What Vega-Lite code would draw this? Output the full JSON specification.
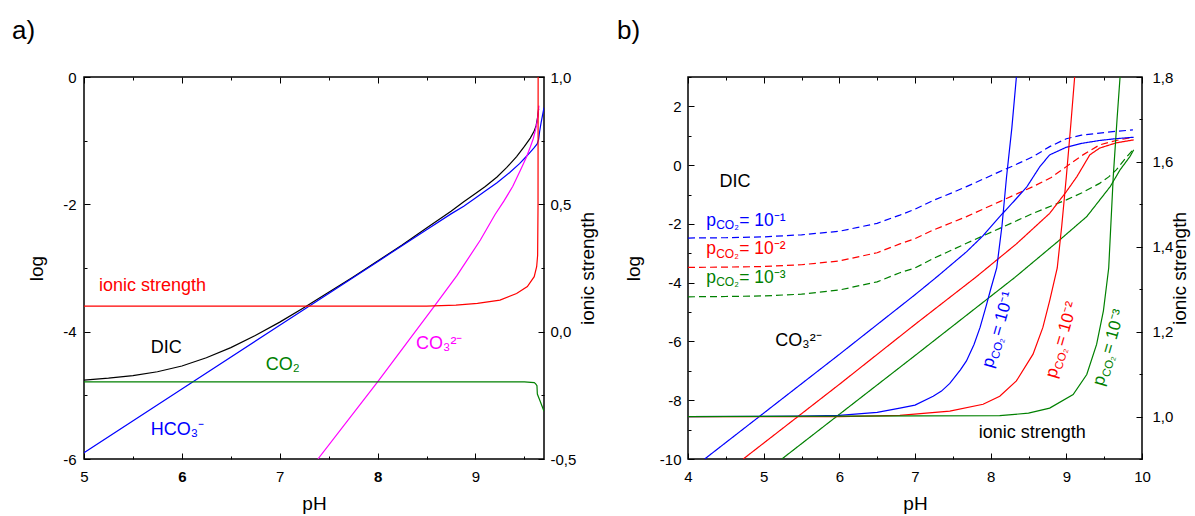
{
  "$schema": "https://vega.github.io/schema/vega-lite/v6.json",
  "padding": {"left": 11, "top": 17, "right": 3, "bottom": 0},
  "background": "white",
  "config": {
    "font": "Liberation Sans",
    "view": {"stroke": "#000000", "strokeWidth": 1.5},
    "axis": {"domain": false, "grid": false, "labelFont": "Liberation Sans", "labelFontSize": 15, "labelColor": "#000000", "tickColor": "#000000", "tickWidth": 1, "titleFont": "Liberation Sans", "titleFontSize": 19, "titleFontWeight": "normal", "titleColor": "#000000", "labelFlush": false, "labelOverlap": false},
    "title": {"font": "Liberation Sans", "fontSize": 26, "fontWeight": "normal", "anchor": "start", "frame": "group", "baseline": "alphabetic", "offset": 26, "color": "#000000"}
  },
  "spacing": 17,
  "resolve": {"scale": {"x": "independent", "y": "independent", "color": "independent", "strokeDash": "independent"}},
  "datasets": {
    "aLines": [
      {"pH": 5, "v": -4.76, "s": "DIC"}, {"pH": 5.25, "v": -4.73, "s": "DIC"}, {"pH": 5.5, "v": -4.69, "s": "DIC"}, {"pH": 5.75, "v": -4.63, "s": "DIC"}, {"pH": 6, "v": -4.54, "s": "DIC"}, {"pH": 6.25, "v": -4.41, "s": "DIC"}, {"pH": 6.5, "v": -4.25, "s": "DIC"}, {"pH": 6.75, "v": -4.06, "s": "DIC"}, {"pH": 7, "v": -3.85, "s": "DIC"}, {"pH": 7.25, "v": -3.62, "s": "DIC"}, {"pH": 7.5, "v": -3.38, "s": "DIC"}, {"pH": 7.75, "v": -3.14, "s": "DIC"}, {"pH": 8, "v": -2.89, "s": "DIC"}, {"pH": 8.25, "v": -2.64, "s": "DIC"}, {"pH": 8.5, "v": -2.37, "s": "DIC"}, {"pH": 8.75, "v": -2.11, "s": "DIC"}, {"pH": 8.88, "v": -1.96, "s": "DIC"}, {"pH": 9, "v": -1.83, "s": "DIC"}, {"pH": 9.1, "v": -1.72, "s": "DIC"}, {"pH": 9.22, "v": -1.57, "s": "DIC"}, {"pH": 9.32, "v": -1.42, "s": "DIC"}, {"pH": 9.42, "v": -1.25, "s": "DIC"}, {"pH": 9.5, "v": -1.09, "s": "DIC"}, {"pH": 9.56, "v": -0.96, "s": "DIC"}, {"pH": 9.6, "v": -0.85, "s": "DIC"}, {"pH": 9.62, "v": -0.76, "s": "DIC"}, {"pH": 9.635, "v": -0.63, "s": "DIC"}, {"pH": 9.645, "v": -0.5, "s": "DIC"},
      {"pH": 5, "v": -5.9, "s": "HCO3"}, {"pH": 6, "v": -4.9, "s": "HCO3"}, {"pH": 7, "v": -3.9, "s": "HCO3"}, {"pH": 8, "v": -2.9, "s": "HCO3"}, {"pH": 8.5, "v": -2.4, "s": "HCO3"}, {"pH": 8.75, "v": -2.15, "s": "HCO3"}, {"pH": 8.88, "v": -2.03, "s": "HCO3"}, {"pH": 9, "v": -1.9, "s": "HCO3"}, {"pH": 9.1, "v": -1.79, "s": "HCO3"}, {"pH": 9.22, "v": -1.66, "s": "HCO3"}, {"pH": 9.35, "v": -1.5, "s": "HCO3"}, {"pH": 9.45, "v": -1.36, "s": "HCO3"}, {"pH": 9.5, "v": -1.28, "s": "HCO3"}, {"pH": 9.56, "v": -1.18, "s": "HCO3"}, {"pH": 9.6, "v": -1.11, "s": "HCO3"}, {"pH": 9.63, "v": -1.05, "s": "HCO3"}, {"pH": 9.645, "v": -0.98, "s": "HCO3"}, {"pH": 9.655, "v": -0.86, "s": "HCO3"}, {"pH": 9.67, "v": -0.72, "s": "HCO3"}, {"pH": 9.7, "v": -0.48, "s": "HCO3"},
      {"pH": 7.39, "v": -6, "s": "CO3"}, {"pH": 8, "v": -4.79, "s": "CO3"}, {"pH": 8.58, "v": -3.6, "s": "CO3"}, {"pH": 8.81, "v": -3.12, "s": "CO3"}, {"pH": 9.05, "v": -2.56, "s": "CO3"}, {"pH": 9.2, "v": -2.16, "s": "CO3"}, {"pH": 9.29, "v": -1.95, "s": "CO3"}, {"pH": 9.38, "v": -1.72, "s": "CO3"}, {"pH": 9.46, "v": -1.46, "s": "CO3"}, {"pH": 9.52, "v": -1.26, "s": "CO3"}, {"pH": 9.56, "v": -1.1, "s": "CO3"}, {"pH": 9.59, "v": -0.97, "s": "CO3"}, {"pH": 9.615, "v": -0.82, "s": "CO3"}, {"pH": 9.63, "v": -0.7, "s": "CO3"}, {"pH": 9.64, "v": -0.58, "s": "CO3"}, {"pH": 9.648, "v": -0.45, "s": "CO3"},
      {"pH": 5, "v": -4.79, "s": "CO2"}, {"pH": 9.5, "v": -4.79, "s": "CO2"}, {"pH": 9.6, "v": -4.8, "s": "CO2"}, {"pH": 9.615, "v": -4.82, "s": "CO2"}, {"pH": 9.628, "v": -4.85, "s": "CO2"}, {"pH": 9.632, "v": -4.98, "s": "CO2"}, {"pH": 9.66, "v": -5.09, "s": "CO2"}, {"pH": 9.7, "v": -5.25, "s": "CO2"}
    ],
    "aIonic": [
      {"pH": 5, "I": 0.1}, {"pH": 8.5, "I": 0.1}, {"pH": 8.8, "I": 0.104}, {"pH": 9.02, "I": 0.111}, {"pH": 9.25, "I": 0.124}, {"pH": 9.42, "I": 0.15}, {"pH": 9.53, "I": 0.177}, {"pH": 9.6, "I": 0.216}, {"pH": 9.625, "I": 0.255}, {"pH": 9.635, "I": 0.3}, {"pH": 9.639, "I": 0.5}, {"pH": 9.64, "I": 1.0}
    ],
    "aLabels": [
      {"pH": 5.7, "v": -3.28, "t": "ionic strength", "s": "ionic"},
      {"pH": 5.84, "v": -4.25, "t": "DIC", "s": "DIC"},
      {"pH": 7.03, "v": -4.52, "t": "CO₂", "s": "CO2"},
      {"pH": 5.955, "v": -5.55, "t": "HCO₃⁻", "s": "HCO3"},
      {"pH": 8.63, "v": -4.2, "t": "CO₃²⁻", "s": "CO3"}
    ],
    "bLines": [
      {"pH": 4, "v": -2.48, "p": "p1", "k": "DIC"}, {"pH": 4.5, "v": -2.47, "p": "p1", "k": "DIC"}, {"pH": 5, "v": -2.44, "p": "p1", "k": "DIC"}, {"pH": 5.5, "v": -2.37, "p": "p1", "k": "DIC"}, {"pH": 6, "v": -2.25, "p": "p1", "k": "DIC"}, {"pH": 6.5, "v": -1.98, "p": "p1", "k": "DIC"}, {"pH": 6.8, "v": -1.7, "p": "p1", "k": "DIC"}, {"pH": 7, "v": -1.5, "p": "p1", "k": "DIC"}, {"pH": 7.24, "v": -1.2, "p": "p1", "k": "DIC"}, {"pH": 7.5, "v": -0.93, "p": "p1", "k": "DIC"}, {"pH": 7.68, "v": -0.73, "p": "p1", "k": "DIC"}, {"pH": 8, "v": -0.36, "p": "p1", "k": "DIC"}, {"pH": 8.12, "v": -0.22, "p": "p1", "k": "DIC"}, {"pH": 8.3, "v": -0.02, "p": "p1", "k": "DIC"}, {"pH": 8.56, "v": 0.29, "p": "p1", "k": "DIC"}, {"pH": 8.78, "v": 0.63, "p": "p1", "k": "DIC"}, {"pH": 9, "v": 0.9, "p": "p1", "k": "DIC"}, {"pH": 9.2, "v": 1.02, "p": "p1", "k": "DIC"}, {"pH": 9.44, "v": 1.09, "p": "p1", "k": "DIC"}, {"pH": 9.65, "v": 1.15, "p": "p1", "k": "DIC"}, {"pH": 9.88, "v": 1.2, "p": "p1", "k": "DIC"},
      {"pH": 4, "v": -3.48, "p": "p2", "k": "DIC"}, {"pH": 4.5, "v": -3.47, "p": "p2", "k": "DIC"}, {"pH": 5, "v": -3.45, "p": "p2", "k": "DIC"}, {"pH": 5.5, "v": -3.39, "p": "p2", "k": "DIC"}, {"pH": 6, "v": -3.26, "p": "p2", "k": "DIC"}, {"pH": 6.5, "v": -2.98, "p": "p2", "k": "DIC"}, {"pH": 6.8, "v": -2.68, "p": "p2", "k": "DIC"}, {"pH": 7, "v": -2.5, "p": "p2", "k": "DIC"}, {"pH": 7.24, "v": -2.21, "p": "p2", "k": "DIC"}, {"pH": 7.68, "v": -1.75, "p": "p2", "k": "DIC"}, {"pH": 8.12, "v": -1.24, "p": "p2", "k": "DIC"}, {"pH": 8.56, "v": -0.73, "p": "p2", "k": "DIC"}, {"pH": 8.8, "v": -0.42, "p": "p2", "k": "DIC"}, {"pH": 9, "v": -0.05, "p": "p2", "k": "DIC"}, {"pH": 9.22, "v": 0.35, "p": "p2", "k": "DIC"}, {"pH": 9.44, "v": 0.69, "p": "p2", "k": "DIC"}, {"pH": 9.66, "v": 0.84, "p": "p2", "k": "DIC"}, {"pH": 9.88, "v": 0.95, "p": "p2", "k": "DIC"},
      {"pH": 4, "v": -4.48, "p": "p3", "k": "DIC"}, {"pH": 4.5, "v": -4.47, "p": "p3", "k": "DIC"}, {"pH": 5, "v": -4.45, "p": "p3", "k": "DIC"}, {"pH": 5.5, "v": -4.39, "p": "p3", "k": "DIC"}, {"pH": 6, "v": -4.25, "p": "p3", "k": "DIC"}, {"pH": 6.5, "v": -3.97, "p": "p3", "k": "DIC"}, {"pH": 6.8, "v": -3.66, "p": "p3", "k": "DIC"}, {"pH": 7, "v": -3.5, "p": "p3", "k": "DIC"}, {"pH": 7.24, "v": -3.18, "p": "p3", "k": "DIC"}, {"pH": 7.68, "v": -2.66, "p": "p3", "k": "DIC"}, {"pH": 8.12, "v": -2.15, "p": "p3", "k": "DIC"}, {"pH": 8.56, "v": -1.64, "p": "p3", "k": "DIC"}, {"pH": 9, "v": -1.18, "p": "p3", "k": "DIC"}, {"pH": 9.2, "v": -0.95, "p": "p3", "k": "DIC"}, {"pH": 9.44, "v": -0.62, "p": "p3", "k": "DIC"}, {"pH": 9.56, "v": -0.4, "p": "p3", "k": "DIC"}, {"pH": 9.66, "v": -0.16, "p": "p3", "k": "DIC"}, {"pH": 9.8, "v": 0.29, "p": "p3", "k": "DIC"}, {"pH": 9.89, "v": 0.55, "p": "p3", "k": "DIC"},
      {"pH": 4.22, "v": -10, "p": "p1", "k": "CO3"}, {"pH": 5, "v": -8.44, "p": "p1", "k": "CO3"}, {"pH": 6, "v": -6.44, "p": "p1", "k": "CO3"}, {"pH": 7, "v": -4.41, "p": "p1", "k": "CO3"}, {"pH": 7.29, "v": -3.8, "p": "p1", "k": "CO3"}, {"pH": 7.68, "v": -2.95, "p": "p1", "k": "CO3"}, {"pH": 7.9, "v": -2.4, "p": "p1", "k": "CO3"}, {"pH": 8.12, "v": -1.75, "p": "p1", "k": "CO3"}, {"pH": 8.3, "v": -1.25, "p": "p1", "k": "CO3"}, {"pH": 8.48, "v": -0.73, "p": "p1", "k": "CO3"}, {"pH": 8.65, "v": -0.05, "p": "p1", "k": "CO3"}, {"pH": 8.78, "v": 0.35, "p": "p1", "k": "CO3"}, {"pH": 9, "v": 0.61, "p": "p1", "k": "CO3"}, {"pH": 9.2, "v": 0.74, "p": "p1", "k": "CO3"}, {"pH": 9.44, "v": 0.84, "p": "p1", "k": "CO3"}, {"pH": 9.65, "v": 0.9, "p": "p1", "k": "CO3"}, {"pH": 9.89, "v": 0.95, "p": "p1", "k": "CO3"},
      {"pH": 4.73, "v": -10, "p": "p2", "k": "CO3"}, {"pH": 5, "v": -9.46, "p": "p2", "k": "CO3"}, {"pH": 6, "v": -7.46, "p": "p2", "k": "CO3"}, {"pH": 7, "v": -5.42, "p": "p2", "k": "CO3"}, {"pH": 7.81, "v": -3.8, "p": "p2", "k": "CO3"}, {"pH": 8.34, "v": -2.68, "p": "p2", "k": "CO3"}, {"pH": 8.78, "v": -1.64, "p": "p2", "k": "CO3"}, {"pH": 9, "v": -0.9, "p": "p2", "k": "CO3"}, {"pH": 9.14, "v": -0.39, "p": "p2", "k": "CO3"}, {"pH": 9.31, "v": 0.35, "p": "p2", "k": "CO3"}, {"pH": 9.44, "v": 0.58, "p": "p2", "k": "CO3"}, {"pH": 9.66, "v": 0.76, "p": "p2", "k": "CO3"}, {"pH": 9.89, "v": 0.86, "p": "p2", "k": "CO3"},
      {"pH": 5.24, "v": -10, "p": "p3", "k": "CO3"}, {"pH": 6, "v": -8.48, "p": "p3", "k": "CO3"}, {"pH": 7, "v": -6.48, "p": "p3", "k": "CO3"}, {"pH": 8.32, "v": -3.82, "p": "p3", "k": "CO3"}, {"pH": 8.91, "v": -2.55, "p": "p3", "k": "CO3"}, {"pH": 9.27, "v": -1.75, "p": "p3", "k": "CO3"}, {"pH": 9.58, "v": -0.73, "p": "p3", "k": "CO3"}, {"pH": 9.71, "v": -0.16, "p": "p3", "k": "CO3"}, {"pH": 9.84, "v": 0.29, "p": "p3", "k": "CO3"}, {"pH": 9.89, "v": 0.52, "p": "p3", "k": "CO3"}
    ],
    "bIonic": [
      {"pH": 4, "I": 1.0, "p": "p1"}, {"pH": 5.5, "I": 1.001, "p": "p1"}, {"pH": 6, "I": 1.003, "p": "p1"}, {"pH": 6.5, "I": 1.01, "p": "p1"}, {"pH": 6.8, "I": 1.02, "p": "p1"}, {"pH": 7, "I": 1.027, "p": "p1"}, {"pH": 7.24, "I": 1.048, "p": "p1"}, {"pH": 7.35, "I": 1.06, "p": "p1"}, {"pH": 7.46, "I": 1.078, "p": "p1"}, {"pH": 7.6, "I": 1.11, "p": "p1"}, {"pH": 7.68, "I": 1.131, "p": "p1"}, {"pH": 7.78, "I": 1.17, "p": "p1"}, {"pH": 7.86, "I": 1.21, "p": "p1"}, {"pH": 7.94, "I": 1.26, "p": "p1"}, {"pH": 8, "I": 1.3, "p": "p1"}, {"pH": 8.08, "I": 1.35, "p": "p1"}, {"pH": 8.15, "I": 1.45, "p": "p1"}, {"pH": 8.21, "I": 1.565, "p": "p1"}, {"pH": 8.28, "I": 1.68, "p": "p1"}, {"pH": 8.34, "I": 1.8, "p": "p1"},
      {"pH": 4, "I": 1.0, "p": "p2"}, {"pH": 6, "I": 1.0, "p": "p2"}, {"pH": 6.8, "I": 1.003, "p": "p2"}, {"pH": 7.46, "I": 1.013, "p": "p2"}, {"pH": 7.9, "I": 1.029, "p": "p2"}, {"pH": 8.12, "I": 1.048, "p": "p2"}, {"pH": 8.34, "I": 1.084, "p": "p2"}, {"pH": 8.56, "I": 1.147, "p": "p2"}, {"pH": 8.69, "I": 1.21, "p": "p2"}, {"pH": 8.78, "I": 1.273, "p": "p2"}, {"pH": 8.88, "I": 1.35, "p": "p2"}, {"pH": 8.94, "I": 1.45, "p": "p2"}, {"pH": 9, "I": 1.565, "p": "p2"}, {"pH": 9.06, "I": 1.69, "p": "p2"}, {"pH": 9.11, "I": 1.8, "p": "p2"},
      {"pH": 4, "I": 1.0, "p": "p3"}, {"pH": 8.12, "I": 1.002, "p": "p3"}, {"pH": 8.5, "I": 1.008, "p": "p3"}, {"pH": 8.78, "I": 1.02, "p": "p3"}, {"pH": 9.09, "I": 1.052, "p": "p3"}, {"pH": 9.27, "I": 1.099, "p": "p3"}, {"pH": 9.4, "I": 1.17, "p": "p3"}, {"pH": 9.49, "I": 1.249, "p": "p3"}, {"pH": 9.56, "I": 1.35, "p": "p3"}, {"pH": 9.62, "I": 1.565, "p": "p3"}, {"pH": 9.67, "I": 1.7, "p": "p3"}, {"pH": 9.71, "I": 1.8, "p": "p3"}
    ],
    "bLabels": [
      {"pH": 4.62, "v": -0.59, "t": "DIC", "p": "k", "g": "plain"},
      {"pH": 5.46, "v": -5.99, "t": "CO₃²⁻", "p": "k", "g": "plain"},
      {"pH": 8.55, "v": -9.12, "t": "ionic strength", "p": "k", "g": "plain"},
      {"pH": 4.24, "v": -2.06, "t": "p", "p": "p1", "g": "hp"},
      {"pH": 4.24, "v": -2.06, "t": "CO₂", "p": "p1", "g": "hs"},
      {"pH": 4.24, "v": -2.06, "t": "= 10⁻¹", "p": "p1", "g": "he"},
      {"pH": 4.24, "v": -3.03, "t": "p", "p": "p2", "g": "hp"},
      {"pH": 4.24, "v": -3.03, "t": "CO₂", "p": "p2", "g": "hs"},
      {"pH": 4.24, "v": -3.03, "t": "= 10⁻²", "p": "p2", "g": "he"},
      {"pH": 4.24, "v": -4.0, "t": "p", "p": "p3", "g": "hp"},
      {"pH": 4.24, "v": -4.0, "t": "CO₂", "p": "p3", "g": "hs"},
      {"pH": 4.24, "v": -4.0, "t": "= 10⁻³", "p": "p3", "g": "he"},
      {"pH": 8.02, "v": -6.92, "t": "p", "p": "p1", "g": "rp"},
      {"pH": 8.02, "v": -6.92, "t": "CO₂", "p": "p1", "g": "rs"},
      {"pH": 8.02, "v": -6.92, "t": "= 10⁻¹", "p": "p1", "g": "re"},
      {"pH": 8.86, "v": -7.27, "t": "p", "p": "p2", "g": "rp"},
      {"pH": 8.86, "v": -7.27, "t": "CO₂", "p": "p2", "g": "rs"},
      {"pH": 8.86, "v": -7.27, "t": "= 10⁻²", "p": "p2", "g": "re"},
      {"pH": 9.485, "v": -7.53, "t": "p", "p": "p3", "g": "rp"},
      {"pH": 9.485, "v": -7.53, "t": "CO₂", "p": "p3", "g": "rs"},
      {"pH": 9.485, "v": -7.53, "t": "= 10⁻³", "p": "p3", "g": "re"}
    ]
  },
  "hconcat": [
    {
      "width": 460, "height": 382,
      "title": {"text": "a)", "dx": -72},
      "layer": [
        {
          "data": {"name": "aLines"},
          "mark": {"type": "line", "strokeWidth": 1.2, "clip": true},
          "encoding": {
            "x": {"field": "pH", "type": "quantitative", "scale": {"domain": [5, 9.7], "nice": false, "zero": false},
              "axis": {"title": "pH", "orient": "bottom", "values": [5, 5.5, 6, 6.5, 7, 7.5, 8, 8.5, 9, 9.5], "labelExpr": "datum.value % 1 == 0 ? format(datum.value, 'd') : ''", "tickSize": {"condition": {"test": "datum.value % 1 == 0", "value": -6}, "value": -3}, "labelPadding": 16, "titlePadding": 7, "labelFontWeight": {"condition": {"test": "datum.value == 6 || datum.value == 8", "value": "bold"}, "value": "normal"}}},
            "y": {"field": "v", "type": "quantitative", "scale": {"domain": [-6, 0], "nice": false, "zero": false},
              "axis": {"title": "log", "orient": "left", "values": [-6, -5, -4, -3, -2, -1, 0], "labelExpr": "datum.value % 2 == 0 ? replace(format(datum.value, 'd'), '−', '-') : ''", "tickSize": {"condition": {"test": "datum.value % 2 == 0", "value": -6}, "value": -3}, "labelPadding": 14, "titlePadding": 16}},
            "color": {"field": "s", "type": "nominal", "scale": {"domain": ["DIC", "CO2", "HCO3", "CO3", "ionic"], "range": ["#000000", "#008000", "#0000ff", "#ff00ff", "#ff0000"]}, "legend": null}
          }
        },
        {
          "data": {"name": "aIonic"},
          "mark": {"type": "line", "color": "#ff0000", "strokeWidth": 1.2, "clip": true},
          "encoding": {
            "x": {"field": "pH", "type": "quantitative", "scale": {"domain": [5, 9.7], "nice": false, "zero": false},
              "axis": {"title": null, "orient": "top", "labels": false, "values": [5, 5.5, 6, 6.5, 7, 7.5, 8, 8.5, 9, 9.5], "tickSize": {"condition": {"test": "datum.value % 1 == 0", "value": -6}, "value": -3}}},
            "y": {"field": "I", "type": "quantitative", "scale": {"domain": [-0.5, 1], "nice": false, "zero": false},
              "axis": {"title": "ionic strength", "orient": "right", "values": [-0.5, -0.25, 0, 0.25, 0.5, 0.75, 1], "labelExpr": "round(datum.value * 4) % 2 == 0 ? replace(replace(format(datum.value, '.1f'), '.', ','), '−', '-') : ''", "tickSize": {"condition": {"test": "round(datum.value * 4) % 2 == 0", "value": -6}, "value": -3}, "labelPadding": 12, "titlePadding": 3, "titleAngle": 270, "titleBaseline": "top"}}
          }
        },
        {
          "data": {"name": "aLabels"},
          "mark": {"type": "text", "fontSize": 18, "align": "center", "baseline": "middle", "font": "Liberation Sans"},
          "encoding": {
            "x": {"field": "pH", "type": "quantitative", "scale": {"domain": [5, 9.7], "nice": false, "zero": false}, "axis": null},
            "y": {"field": "v", "type": "quantitative", "scale": {"domain": [-6, 0], "nice": false, "zero": false}, "axis": null},
            "text": {"field": "t", "type": "nominal"},
            "color": {"field": "s", "type": "nominal", "legend": null}
          }
        }
      ],
      "resolve": {"scale": {"y": "independent"}, "axis": {"x": "independent", "y": "independent"}}
    },
    {
      "width": 454, "height": 382,
      "title": {"text": "b)", "dx": -71},
      "layer": [
        {
          "data": {"name": "bLines"},
          "mark": {"type": "line", "strokeWidth": 1.2, "clip": true},
          "encoding": {
            "x": {"field": "pH", "type": "quantitative", "scale": {"domain": [4, 10], "nice": false, "zero": false},
              "axis": {"title": "pH", "orient": "bottom", "values": [4, 4.5, 5, 5.5, 6, 6.5, 7, 7.5, 8, 8.5, 9, 9.5, 10], "labelExpr": "datum.value % 1 == 0 ? format(datum.value, 'd') : ''", "tickSize": {"condition": {"test": "datum.value % 1 == 0", "value": -6}, "value": -3}, "labelPadding": 16, "titlePadding": 7}},
            "y": {"field": "v", "type": "quantitative", "scale": {"domain": [-10, 3], "nice": false, "zero": false},
              "axis": {"title": "log", "orient": "left", "values": [-10, -9, -8, -7, -6, -5, -4, -3, -2, -1, 0, 1, 2, 3], "labelExpr": "datum.value % 2 == 0 ? replace(format(datum.value, 'd'), '−', '-') : ''", "tickSize": {"condition": {"test": "datum.value % 2 == 0", "value": -6}, "value": -3}, "labelPadding": 13, "titlePadding": 16}},
            "color": {"field": "p", "type": "nominal", "scale": {"domain": ["p1", "p2", "p3", "k"], "range": ["#0000ff", "#ff0000", "#008000", "#000000"]}, "legend": null},
            "strokeDash": {"field": "k", "type": "nominal", "scale": {"domain": ["CO3", "DIC"], "range": [[1, 0], [7, 4]]}, "legend": null}
          }
        },
        {
          "data": {"name": "bIonic"},
          "mark": {"type": "line", "strokeWidth": 1.2, "clip": true},
          "encoding": {
            "x": {"field": "pH", "type": "quantitative", "scale": {"domain": [4, 10], "nice": false, "zero": false},
              "axis": {"title": null, "orient": "top", "labels": false, "values": [4, 4.5, 5, 5.5, 6, 6.5, 7, 7.5, 8, 8.5, 9, 9.5, 10], "tickSize": {"condition": {"test": "datum.value % 1 == 0", "value": -6}, "value": -3}}},
            "y": {"field": "I", "type": "quantitative", "scale": {"domain": [0.9, 1.8], "nice": false, "zero": false},
              "axis": {"title": "ionic strength", "orient": "right", "values": [0.9, 1.0, 1.1, 1.2, 1.3, 1.4, 1.5, 1.6, 1.7, 1.8], "labelExpr": "round(datum.value * 10) % 2 == 0 ? replace(format(datum.value, '.1f'), '.', ',') : ''", "tickSize": {"condition": {"test": "round(datum.value * 10) % 2 == 0", "value": -6}, "value": -3}, "labelPadding": 16, "titlePadding": -2, "titleAngle": 270, "titleBaseline": "top"}},
            "color": {"field": "p", "type": "nominal", "legend": null}
          }
        },
        {
          "data": {"name": "bLabels"},
          "transform": [{"filter": "datum.g == 'plain'"}],
          "mark": {"type": "text", "fontSize": 18, "align": "center", "baseline": "middle", "font": "Liberation Sans"},
          "encoding": {
            "x": {"field": "pH", "type": "quantitative", "scale": {"domain": [4, 10], "nice": false, "zero": false}, "axis": null},
            "y": {"field": "v", "type": "quantitative", "scale": {"domain": [-10, 3], "nice": false, "zero": false}, "axis": null},
            "text": {"field": "t", "type": "nominal"},
            "color": {"field": "p", "type": "nominal", "legend": null}
          }
        },
        {
          "data": {"name": "bLabels"},
          "transform": [{"filter": "datum.g == 'hp'"}],
          "mark": {"type": "text", "fontSize": 17.5, "align": "left", "baseline": "alphabetic", "font": "Liberation Sans"},
          "encoding": {
            "x": {"field": "pH", "type": "quantitative", "scale": {"domain": [4, 10], "nice": false, "zero": false}, "axis": null},
            "y": {"field": "v", "type": "quantitative", "scale": {"domain": [-10, 3], "nice": false, "zero": false}, "axis": null},
            "text": {"field": "t", "type": "nominal"},
            "color": {"field": "p", "type": "nominal", "legend": null}
          }
        },
        {
          "data": {"name": "bLabels"},
          "transform": [{"filter": "datum.g == 'hs'"}],
          "mark": {"type": "text", "fontSize": 12, "align": "left", "baseline": "alphabetic", "dx": 10, "dy": 3.5, "font": "Liberation Sans"},
          "encoding": {
            "x": {"field": "pH", "type": "quantitative", "scale": {"domain": [4, 10], "nice": false, "zero": false}, "axis": null},
            "y": {"field": "v", "type": "quantitative", "scale": {"domain": [-10, 3], "nice": false, "zero": false}, "axis": null},
            "text": {"field": "t", "type": "nominal"},
            "color": {"field": "p", "type": "nominal", "legend": null}
          }
        },
        {
          "data": {"name": "bLabels"},
          "transform": [{"filter": "datum.g == 'he'"}],
          "mark": {"type": "text", "fontSize": 17.5, "align": "left", "baseline": "alphabetic", "dx": 33, "font": "Liberation Sans"},
          "encoding": {
            "x": {"field": "pH", "type": "quantitative", "scale": {"domain": [4, 10], "nice": false, "zero": false}, "axis": null},
            "y": {"field": "v", "type": "quantitative", "scale": {"domain": [-10, 3], "nice": false, "zero": false}, "axis": null},
            "text": {"field": "t", "type": "nominal"},
            "color": {"field": "p", "type": "nominal", "legend": null}
          }
        },
        {
          "data": {"name": "bLabels"},
          "transform": [{"filter": "datum.g == 'rp'"}],
          "mark": {"type": "text", "fontSize": 17, "align": "left", "baseline": "alphabetic", "angle": 286, "font": "Liberation Sans"},
          "encoding": {
            "x": {"field": "pH", "type": "quantitative", "scale": {"domain": [4, 10], "nice": false, "zero": false}, "axis": null},
            "y": {"field": "v", "type": "quantitative", "scale": {"domain": [-10, 3], "nice": false, "zero": false}, "axis": null},
            "text": {"field": "t", "type": "nominal"},
            "color": {"field": "p", "type": "nominal", "legend": null}
          }
        },
        {
          "data": {"name": "bLabels"},
          "transform": [{"filter": "datum.g == 'rs'"}],
          "mark": {"type": "text", "fontSize": 11.5, "align": "left", "baseline": "alphabetic", "angle": 286, "dx": 10, "dy": 3.5, "font": "Liberation Sans"},
          "encoding": {
            "x": {"field": "pH", "type": "quantitative", "scale": {"domain": [4, 10], "nice": false, "zero": false}, "axis": null},
            "y": {"field": "v", "type": "quantitative", "scale": {"domain": [-10, 3], "nice": false, "zero": false}, "axis": null},
            "text": {"field": "t", "type": "nominal"},
            "color": {"field": "p", "type": "nominal", "legend": null}
          }
        },
        {
          "data": {"name": "bLabels"},
          "transform": [{"filter": "datum.g == 're'"}],
          "mark": {"type": "text", "fontSize": 17, "align": "left", "baseline": "alphabetic", "angle": 286, "dx": 33, "font": "Liberation Sans"},
          "encoding": {
            "x": {"field": "pH", "type": "quantitative", "scale": {"domain": [4, 10], "nice": false, "zero": false}, "axis": null},
            "y": {"field": "v", "type": "quantitative", "scale": {"domain": [-10, 3], "nice": false, "zero": false}, "axis": null},
            "text": {"field": "t", "type": "nominal"},
            "color": {"field": "p", "type": "nominal", "legend": null}
          }
        }
      ],
      "resolve": {"scale": {"y": "independent"}, "axis": {"x": "independent", "y": "independent"}}
    }
  ]
}
